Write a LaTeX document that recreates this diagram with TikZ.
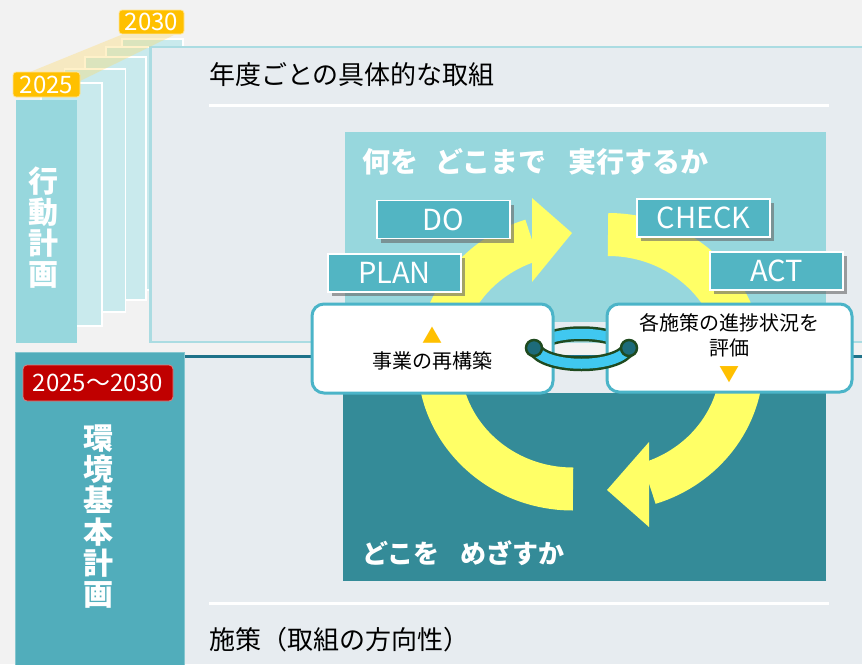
\documentclass[tikz,border=0pt]{standalone}
\usepackage{fontspec}
\setmainfont{Noto Sans CJK JP}
\usepackage{tikz}
\usetikzlibrary{positioning,calc,shadows}
\definecolor{bggray}{HTML}{F2F2F2}
\definecolor{panelgray}{HTML}{E7ECF0}
\definecolor{panelline}{HTML}{ABDCE2}
\definecolor{pagecyan}{HTML}{C9EAED}
\definecolor{frontcyan}{HTML}{97D7DD}
\definecolor{pgold}{HTML}{FFC000}
\definecolor{wedgeyellow}{HTML}{FFD966}
\definecolor{planteal}{HTML}{51ADBB}
\definecolor{spanred}{HTML}{C00000}
\definecolor{ruleteal}{HTML}{1F7289}
\definecolor{goalteal}{HTML}{348B98}
\definecolor{arrowyellow}{HTML}{FFFF66}
\definecolor{tagteal}{HTML}{52B5C3}
\definecolor{boxline}{HTML}{4BB4C8}
\definecolor{ringblue}{HTML}{40C8F0}
\definecolor{ringedge}{HTML}{1F4A1F}
\definecolor{ringhole}{HTML}{1D6B7A}

\begin{document}
\begin{tikzpicture}[x=1pt,y=-1pt,
  page/.style={fill=pagecyan,draw=white,line width=1.2pt},
  yearlbl/.style={fill=pgold,draw=pgold!40,line width=.8pt,rounded corners=3pt,text=white,inner sep=0pt,font=\fontsize{24}{26}\selectfont},
  tag/.style={fill=tagteal,draw=white,line width=1.2pt,text=white,minimum width=133pt,minimum height=38pt,inner sep=0pt,font=\fontsize{29}{31}\selectfont,drop shadow={shadow xshift=4pt,shadow yshift=-4pt,fill=black!60,opacity=.6}},
  infobox/.style={fill=white,draw=boxline,line width=3pt,rounded corners=12pt,align=center,inner sep=0pt,font=\fontsize{20}{25.5}\selectfont},
  headtxt/.style={anchor=west,inner sep=0pt,font=\fontsize{26}{30}\selectfont},
  whitehead/.style={anchor=west,inner sep=0pt,text=white,font=\bfseries\fontsize{28}{30}\selectfont},
  vtext/.style={align=center,inner sep=0pt,text=white,font=\bfseries\fontsize{30}{31.2}\selectfont},
  band/.style={line width=43pt,draw=arrowyellow},
  ringout/.style={line width=15pt,draw=ringedge},
  ringin/.style={line width=10pt,draw=ringblue}]

\useasboundingbox (0,0) rectangle (862,664);
\clip (0,0) rectangle (862,664);
\fill[bggray] (0,0) rectangle (862,664);

% yearly action plans, 2030 at the back
\draw[page] (122,39) rectangle +(61,243);
\draw[page] (106,47) rectangle +(61,243);
\draw[page] (85,57) rectangle +(61,243);
\draw[page] (64.5,69) rectangle +(61,243);
\draw[page] (41,83) rectangle +(61,243);
\fill[frontcyan] (16,100) rectangle (77,343);
\draw[fill=panelgray,draw=panelline,line width=2.5pt] (150.5,47) rectangle (880,342);
\fill[wedgeyellow,opacity=.35] (30,72) -- (121,35) -- (174,35) -- (80,81) -- cycle;

\node (y2030) at (151.5,22) [yearlbl,minimum width=65pt,minimum height=24pt] {2030};
\node (y2025) at (46.5,84.5) [yearlbl,minimum width=67pt,minimum height=25pt] {2025};
\node (actplan) at (43,227.5) [vtext] {行\\動\\計\\画};

% basic plan
\fill[panelgray] (184,357) rectangle (862,664);
\draw[ruleteal,line width=2.5pt] (184,356.5) -- (862,356.5);
\draw[fill=planteal,draw=planteal!70!white,line width=1pt] (15.5,352) rectangle (184,670);
\node (span) at (98,383) [fill=spanred,draw=spanred!50!white,line width=.8pt,rounded corners=4pt,minimum width=150pt,minimum height=36pt,inner sep=0pt,text=white,font=\fontsize{24}{26}\selectfont] {2025～2030};
\node (envplan) at (98,516.5) [vtext] {環\\境\\基\\本\\計\\画};

\node (yearly) at (209,75) [headtxt] {年度ごとの具体的な取組};
\draw[white,line width=3pt] (209,105) -- (829,105);
\draw[white,line width=3pt] (209,603) -- (829,603);
\node (policy) at (209,640) [headtxt] {施策（取組の方向性）};

% PDCA
\fill[frontcyan] (345,132) rectangle (826,322);
\fill[goalteal] (343,393) rectangle (826,581);
\node (what) at (362,162) [whitehead] {何を\hspace{.6em}どこまで\hspace{.8em}実行するか};
\node (where) at (362,553) [whitehead,font=\bfseries\fontsize{26}{30}\selectfont] {どこを\hspace{.8em}めざすか};

\draw[band] (573,489) arc[start angle=90,end angle=252.2,x radius=134,y radius=127.5];
\fill[arrowyellow] (532,198) -- (572,233) -- (532,282) -- cycle;
\draw[band] (608,234.5) arc[start angle=270,end angle=432.2,x radius=134,y radius=127.5];
\fill[arrowyellow] (649,442) -- (607,490) -- (649,527) -- cycle;

\node (plan) at (394.5,273) [tag] {PLAN};
\node (do) at (443.5,219.5) [tag] {DO};
\node (check) at (703.5,218) [tag] {CHECK};
\node (act) at (776.5,271) [tag] {ACT};

\coordinate (ringL) at (534,348);
\coordinate (ringR) at (629,348);
\draw[ringout] (ringL) .. controls +(14,-19) and +(-14,-19) .. (ringR);
\draw[ringin] (ringL) .. controls +(14,-19) and +(-14,-19) .. (ringR);

\node (rebuild) at (432.5,348.5) [infobox,minimum width=241pt,minimum height=89pt] {{\color{pgold}▲}\\事業の再構築};
\node (review) at (729.5,348) [infobox,minimum width=245pt,minimum height=88pt] {各施策の進捗状況を\\評価\\{\color{pgold}▼}};

\draw[ringout] (ringL) .. controls +(11,21) and +(-11,21) .. (ringR);
\draw[ringin] (ringL) .. controls +(11,21) and +(-11,21) .. (ringR);
\draw[fill=ringhole,draw=ringedge,line width=2.5pt] (ringL) circle (8);
\draw[fill=ringhole,draw=ringedge,line width=2.5pt] (ringR) circle (8);

\end{tikzpicture}
\end{document}
